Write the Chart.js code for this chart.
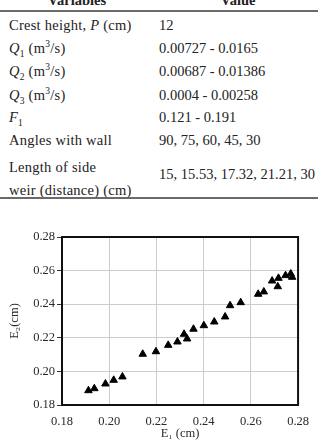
<!DOCTYPE html>
<html>
<head>
<meta charset="utf-8">
<script src="https://cdn.jsdelivr.net/npm/chart.js@4.4.0/dist/chart.umd.min.js"></script>
<style>
html, body { margin: 0; padding: 0; background: #fff; }
body { width: 318px; height: 440px; position: relative; overflow: hidden; font-family: "Liberation Serif", serif; color: #222; }
.t { position: absolute; font-size: 14.5px; line-height: 16px; white-space: nowrap; }
.lft { left: 9px; letter-spacing: 0.25px; }
.rgt { left: 159px; }
.hd { font-weight: bold; text-align: center; }
sub, sup { font-size: 9.5px; line-height: 0; }
.rule { position: absolute; left: 0; width: 318px; background: #6a6a6a; }
#wrap { position: absolute; left: 0; top: 210px; width: 318px; height: 230px; }
</style>
</head>
<body>
<div class="t hd" style="left:17px;width:120px;top:-8px">Variables</div>
<div class="t hd" style="left:188px;width:100px;top:-8px">Value</div>
<div class="rule" style="top:10px;height:2px"></div>
<div id="rows"></div>
<div class="rule" style="top:197px;height:1.5px"></div>
<div id="wrap"><canvas id="chart"></canvas></div>
<script>
// table content
const tableVariables = [
    'Crest height, <i>P</i> (cm)',
    '<i>Q</i><sub>1</sub> (m<sup>3</sup>/s)',
    '<i>Q</i><sub>2</sub> (m<sup>3</sup>/s)',
    '<i>Q</i><sub>3</sub> (m<sup>3</sup>/s)',
    '<i>F</i><sub>1</sub>',
    'Angles with wall',
    'Length of side<br>weir (distance) (cm)'
];
const tableValues = [
    '12',
    '0.00727 - 0.0165',
    '0.00687 - 0.01386',
    '0.0004 - 0.00258',
    '0.121 - 0.191',
    '90, 75, 60, 45, 30',
    '15, 15.53, 17.32, 21.21, 30'
];

// scatter data: E1 (cm) vs E2 (cm)
const e1Values = [0.1912, 0.1937, 0.1984, 0.2019, 0.2056, 0.2142, 0.2198, 0.2250, 0.2289, 0.2317,
                  0.2330, 0.2357, 0.2401, 0.2445, 0.2491, 0.2512, 0.2557, 0.2631, 0.2655, 0.2690,
                  0.2717, 0.2714, 0.2747, 0.2769, 0.2775];
const e2Values = [0.1886, 0.1898, 0.1926, 0.1948, 0.1968, 0.2103, 0.2118, 0.2156, 0.2176, 0.2222,
                  0.2194, 0.2252, 0.2273, 0.2295, 0.2325, 0.2392, 0.2410, 0.2460, 0.2474, 0.2539,
                  0.2555, 0.2505, 0.2571, 0.2581, 0.2561];
const axisMin = 0.18;
const axisMax = 0.28;
const axisStep = 0.02;

// build table rows
const rowTops = [17, 40, 63, 87, 109, 132, 156];
const rowsDiv = document.getElementById('rows');
tableVariables.forEach((v, i) => {
    const l = document.createElement('div');
    l.className = 't lft';
    l.style.top = rowTops[i] + 'px';
    l.innerHTML = v;
    if (i === 6) l.style.lineHeight = '23px';
    rowsDiv.appendChild(l);
    const r = document.createElement('div');
    r.className = 't rgt';
    r.style.top = (i === 6 ? 166 : rowTops[i]) + 'px';
    r.innerHTML = tableValues[i];
    rowsDiv.appendChild(r);
});

Chart.defaults.font.family = "'Liberation Serif', serif";
Chart.defaults.color = '#2a2a2a';

// frame on top/right like the original plot box
const frame = {
    id: 'frame',
    afterDatasetsDraw(chart) {
        const a = chart.chartArea;
        const ctx = chart.ctx;
        ctx.save();
        ctx.strokeStyle = '#111';
        ctx.lineWidth = 2;
        ctx.strokeRect(a.left, a.top, a.right - a.left, a.bottom - a.top);
        ctx.restore();
    }
};

new Chart(document.getElementById('chart').getContext('2d'), {
    type: 'scatter',
    data: {
        datasets: [{
            data: e1Values.map((x, i) => ({ x: x, y: e2Values[i] })),
            pointStyle: 'triangle',
            pointRadius: 4.3,
            backgroundColor: '#000',
            borderColor: '#000',
            borderWidth: 1
        }]
    },
    options: {
        responsive: true,
        maintainAspectRatio: false,
        animation: false,
        layout: { padding: { top: 27, right: 12.5, left: 0, bottom: 0 } },
        plugins: { legend: { display: false }, tooltip: { enabled: false } },
        scales: {
            x: {
                type: 'linear',
                min: axisMin, max: axisMax,
                afterFit(s) { s.height = 35; },
                grid: { color: '#cccccc', drawTicks: false },
                border: { color: '#111', width: 2 },
                ticks: { stepSize: axisStep, padding: 9, font: { size: 12.5 }, callback: v => v.toFixed(2) },
                title: { display: true, text: 'E\u2081 (cm)', font: { size: 12.5 }, padding: { top: 0, bottom: -1.5 } }
            },
            y: {
                type: 'linear',
                min: axisMin, max: axisMax,
                afterFit(s) { s.width = 62; },
                grid: { color: '#cccccc', tickColor: '#333', tickLength: 5 },
                border: { color: '#111', width: 2 },
                ticks: { stepSize: axisStep, padding: 2, font: { size: 12.5 }, callback: v => v.toFixed(2) },
                title: { display: true, text: 'E\u2082(cm)', font: { size: 12.5 }, padding: { top: 7, bottom: 0 } }
            }
        }
    },
    plugins: [frame]
});
</script>
</body>
</html>
